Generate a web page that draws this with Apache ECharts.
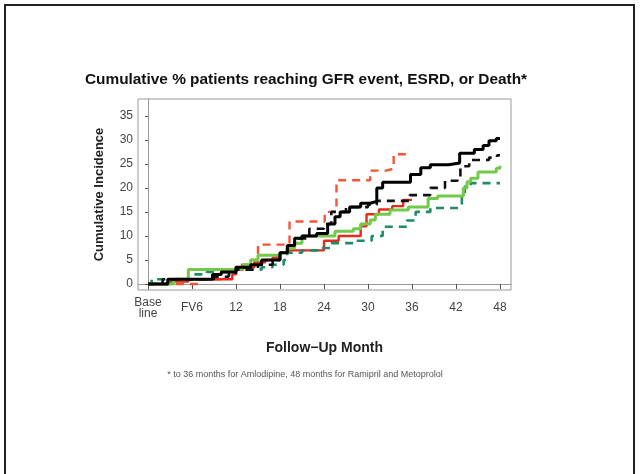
<!DOCTYPE html>
<html>
<head>
<meta charset="utf-8">
<script src="https://cdn.jsdelivr.net/npm/echarts@6/dist/echarts.min.js"></script>
<style>html,body{margin:0;padding:0;background:#fff;}#c{width:640px;height:474px;}</style>
</head>
<body>
<div id="c"></div>
<script>
// Tick labels
var xTicks = [0, 6, 12, 18, 24, 30, 36, 42, 48];
var xTickLabels = ['Base\nline', 'FV6', '12', '18', '24', '30', '36', '42', '48'];
var yTicks = [0, 5, 10, 15, 20, 25, 30, 35];

// Series: [month, cumulative %]
var blackSolid = [[0,0],[2.7,1],[8.8,2],[10,2.5],[12,3.5],[14,4],[15.5,5],[18,6.5],[19,8],[20,9.5],[21,10],[23,10.5],[24.5,12.5],[25.5,14],[26.2,15],[27.5,16],[29,16.8],[30.3,17.2],[31.2,20],[32,21.2],[35.8,22.8],[37.2,24.2],[38.5,24.8],[41,25.2],[42.5,27.2],[44.5,28],[45.7,28.8],[46.5,29.8],[47.5,30.3],[48,30.3]];
var blackDashed = [[0,0],[2,1],[9,1.5],[11,2],[12,3],[15,4],[17,5],[18,6.5],[19,8],[20,9.5],[22,11.5],[24,12.5],[25,15],[27,16],[30,16.5],[31.2,17.3],[35.7,18.5],[38.5,20],[40.5,21.5],[42.2,22],[42.6,24.5],[43.8,25.8],[46.5,26.3],[47.6,26.8],[48,26.8]];
var redSolid = [[0,0],[3,0.5],[5.5,1],[11.5,2],[12,3],[13,3.5],[14.5,4.5],[16,5],[17,5.5],[18,6.5],[19,7],[24,9],[26,10],[29,12],[29.8,14.5],[31.5,15.5],[33.3,16.2],[34.8,17.5],[36,17.5]];
var redDashed = [[0,0],[7,1],[10,2.5],[12,4],[14,5],[15,8.2],[19.3,13],[24.1,15],[25.7,21.6],[30.3,23.6],[32.5,24],[33.5,27],[35.7,27]];
var greenSolid = [[0,0],[3.5,1],[5.5,3],[12,3.2],[13,4],[14,5],[15,6],[18,6.5],[19,7.5],[20,8.5],[21,10],[25.5,11],[28,11.5],[29,12.5],[30.3,13.3],[31,14.5],[33,15.4],[35.5,16],[38.2,17.8],[39.5,18.3],[43,20],[43.5,21.3],[44,22],[45,23.3],[47.5,24.1],[48,24.6]];
var greenDashed = [[0,0],[0.5,1],[5,1],[6,2],[8,2.5],[12,3],[15.5,3.5],[17,4],[18.5,5],[19,6.5],[21,7],[23.5,7.5],[25,8.5],[28,9],[30.5,10],[32,11.9],[35.3,13.2],[36.5,15],[38.5,15.8],[42.3,16.2],[42.8,18.5],[43.2,20.3],[44,21],[48,21]];

var chart = echarts.init(document.getElementById('c'), null, {renderer: 'canvas'});

function stepSeries(name, data, color, dashed, width, z) {
  return {
    name: name, type: 'line', step: 'end', data: data, symbol: 'none', z: z,
    lineStyle: {color: color, width: width, type: dashed ? [8, 6] : 'solid'},
    emphasis: {disabled: true}, animation: false
  };
}

var option = {
  backgroundColor: '#fff',
  animation: false,
  grid: {left: 138, right: 129, top: 99, bottom: 184, show: true, borderColor: '#999', borderWidth: 1, containLabel: false},
  xAxis: {
    type: 'value', min: -1.36, max: 49.5,
    splitLine: {show: false},
    axisLine: {show: true, lineStyle: {color: '#999'}},
    axisTick: {show: true, inside: false, length: 5, customValues: xTicks, lineStyle: {color: '#555'}},
    axisLabel: {
      customValues: xTicks, margin: 18, verticalAlign: 'middle',
      fontFamily: 'Liberation Sans, Arial, sans-serif', fontSize: 12, color: '#444', lineHeight: 11,
      formatter: function (v) { var i = xTicks.indexOf(Math.round(v)); return i >= 0 ? xTickLabels[i] : ''; }
    },
    name: 'Follow\u2212Up Month', nameLocation: 'middle', nameGap: 58,
    nameTextStyle: {fontFamily: 'Liberation Sans, Arial, sans-serif', fontSize: 14, fontWeight: 'bold', color: '#222', verticalAlign: 'middle'}
  },
  yAxis: {
    type: 'value', min: -1.25, max: 38.5,
    splitLine: {show: false},
    axisLine: {show: true, lineStyle: {color: '#999'}},
    axisTick: {show: true, inside: false, length: 3, customValues: yTicks, lineStyle: {color: '#555'}},
    axisLabel: {customValues: yTicks, margin: 5, fontFamily: 'Liberation Sans, Arial, sans-serif', fontSize: 12, color: '#444'},
    name: 'Cumulative Incidence', nameLocation: 'middle', nameGap: 39,
    nameTextStyle: {fontFamily: 'Liberation Sans, Arial, sans-serif', fontSize: 13, fontWeight: 'bold', color: '#222', verticalAlign: 'middle'}
  },
  series: [
    stepSeries('Amlodipine (dashed)', redDashed, '#f2553a', true, 2.4, 2),
    stepSeries('Amlodipine', redSolid, '#e8291c', false, 2.4, 3),
    stepSeries('Metoprolol (dashed)', greenDashed, '#1f8c63', true, 2.6, 4),
    stepSeries('Metoprolol', greenSolid, '#72c94a', false, 3, 5),
    stepSeries('Ramipril (dashed)', blackDashed, '#111', true, 2.6, 6),
    stepSeries('Ramipril', blackSolid, '#000', false, 3, 7)
  ],
  graphic: [
    {type: 'rect', shape: {x: 5, y: 5, width: 629, height: 475}, style: {fill: 'none', stroke: '#222', lineWidth: 2}, silent: true},
    {type: 'text', x: 306, y: 80, style: {text: 'Cumulative % patients reaching GFR event, ESRD, or Death*', font: 'bold 15.4px "Liberation Sans", Arial, sans-serif', fill: '#111', align: 'center', verticalAlign: 'middle'}},
    {type: 'text', x: 305, y: 375, style: {text: '* to 36 months for Amlodipine, 48 months for Ramipril and Metoprolol', font: '9px "Liberation Sans", Arial, sans-serif', fill: '#555', align: 'center', verticalAlign: 'middle'}}
  ]
};
chart.setOption(option);
</script>
</body>
</html>
